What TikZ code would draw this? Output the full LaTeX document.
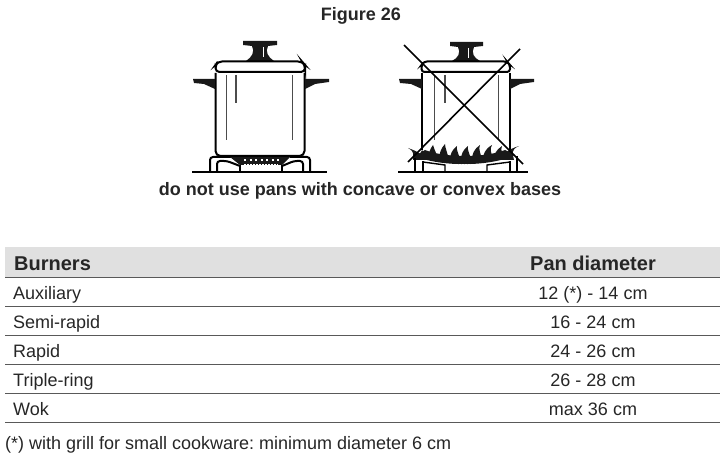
\documentclass[tikz,border=0pt]{standalone}
\usepackage{fontspec}
\setmainfont{Liberation Sans}
\tikzset{
  rowtext/.style={anchor=base west,inner sep=0pt,text=black!85,font=\fontsize{18}{20}\selectfont\frenchspacing},
  sizetext/.style={anchor=base,inner sep=0pt,text=black!85,font=\fontsize{18}{20}\selectfont},
  headtext/.style={anchor=base,inner sep=0pt,text=black!85,font=\fontsize{20}{22}\bfseries\selectfont},
  titletext/.style={anchor=base,inner sep=0pt,text=black!85,font=\fontsize{18}{20}\bfseries\selectfont},
  rowrule/.style={draw=black!65,line width=1.6pt},
  potline/.style={draw=black,line width=2pt},
  potpart/.style={fill=black!90},
  shine/.style={draw=black!70,line width=1pt},
  crossline/.style={draw=black,line width=1.6pt}
}
\begin{document}
\begin{tikzpicture}[x=1pt,y=-1pt]
  \useasboundingbox (0,0) rectangle (726,468);
  \node[titletext] (T-1) at (361,20.5) {Figure 26};
  \node[titletext] (T-2) at (360,196) {do not use pans with concave or convex bases};

  % left pot
  \fill[potpart] (243,41) -- (277,41) -- (277,45) -- (268,46) .. controls (265,52) and (268,57) .. (274,61) -- (246,61) .. controls (252,57) and (255,52) .. (252,46) -- (243,45) -- cycle;
  \draw[white,line width=0.8pt] (263,47) -- (263,57);
  \draw[potline,rounded corners=4pt] (215.5,72) -- (215.5,65) -- (218,61.5) -- (302,61.5) -- (305,65) -- (305,72) -- cycle;
  \draw[potline,rounded corners=5pt] (215.5,73) -- (215.5,156) -- (304.5,156) -- (304.5,73);
  \fill[potpart] (193,79) -- (215,79) -- (215,89) -- (204,84) -- (194,83) -- cycle;
  \fill[potpart] (305,89) -- (305,79) -- (329,79) -- (329,82) -- (315,84) -- cycle;
  \draw[shine] (226,75) -- (226,140);
  \draw[shine,line width=1.2pt] (236,75) -- (236,103);
  \draw[shine] (292,75) -- (292,140);
  % left burner
  \draw[potline] (192,172) -- (327,172);
  \draw[potline,rounded corners=3pt] (210,171) -- (210,157) -- (231,157);
  \draw[potline,rounded corners=3pt] (217,171) -- (217,161) -- (227,161) -- (240,166);
  \draw[potline,rounded corners=3pt] (310,171) -- (310,157) -- (290,157);
  \draw[potline,rounded corners=3pt] (303,171) -- (303,161) -- (294,161) -- (282,166);
  \fill[potpart] (230,157) -- (290,157) -- (282,165) -- (240,165) -- cycle;
  \draw[white,line width=1.2pt,dash pattern=on 2pt off 3.5pt] (244,160) -- (280,160);
  \draw[white,line width=0.8pt,dash pattern=on 1.5pt off 1.5pt] (244,164) -- (278,164);
  \draw[potline,line width=1.2pt] (240,165) -- (240,172) (282,165) -- (282,172);

  % right pot
  \fill[potpart] (450,42) -- (483,42) -- (483,46) -- (474,47) .. controls (471,53) and (474,58) .. (480,61) -- (452,61) .. controls (458,58) and (461,53) .. (458,47) -- (450,46) -- cycle;
  \draw[white,line width=0.8pt] (468,48) -- (468,58);
  \draw[potline,rounded corners=3pt] (421.5,72) -- (421.5,65) -- (424,61.5) -- (507,61.5) -- (510,65) -- (510,72) -- cycle;
  \draw[potline] (422,73) -- (422,150) (510,73) -- (510,150);
  \fill[potpart] (399,79) -- (422,79) -- (422,89) -- (411,84) -- (400,83) -- cycle;
  \fill[potpart] (510,89) -- (510,79) -- (534,79) -- (534,82) -- (520,84) -- cycle;
  \draw[shine] (434,75) -- (434,140);
  \draw[shine,line width=1.2pt] (445,75) -- (445,103);
  \draw[shine] (498,75) -- (498,140);
  % right burner
  \draw[potline] (398,172) -- (528,172);
  \fill[potpart] (415,156) .. controls (440,167) and (490,167) .. (515,155) -- (505,150) .. controls (485,158) and (445,158) .. (425,150) -- cycle;
  \foreach \tipx/\tipy/\basex in {408/148/418,422/150/424,433/145/433,445/144/444,457/146/455,468/146/466,480/145/477,492/145/488,502/146/499,519/146/509} {
    \fill[potpart] (\tipx,\tipy) .. controls (\basex-3,\tipy+4) and (\basex-5,154) .. (\basex-5,160) -- (\basex+5,160) .. controls (\basex+4,154) and (\basex+1,\tipy+4) .. cycle;
  }
  \draw[potline,line width=1.4pt] (415,158) -- (415,171) (423,161) -- (423,171);
  \draw[potline,line width=1.4pt] (510,161) -- (510,171) (517,156) -- (517,171);
  \draw[potline,line width=1.4pt] (423,162) -- (445,165) -- (445,171);
  \draw[potline,line width=1.4pt] (510,162) -- (487,165) -- (487,171);
  \draw[white,line width=0.8pt,dash pattern=on 1.5pt off 1.5pt] (450,164) -- (484,164);
  \coordinate (X-1) at (404,45);
  \coordinate (X-2) at (523,164);
  \coordinate (X-3) at (520,49);
  \coordinate (X-4) at (408,162);
  \draw[crossline] (X-1) -- (X-2);
  \draw[crossline] (X-3) -- (X-4);

  % table
  \fill[black!12] (5,247) rectangle (720,277);
  \node[headtext,anchor=base west] (B-0) at (14,270) {Burners};
  \node[headtext] (D-0) at (593,270) {Pan diameter};
  \draw[rowrule] (5,277.5) -- (720,277.5);
  \node[rowtext] (B-1) at (13,299) {Auxiliary};
  \node[sizetext] (D-1) at (593,299) {12 (*) - 14 cm};
  \draw[rowrule] (5,306.5) -- (720,306.5);
  \node[rowtext] (B-2) at (13,328) {Semi-rapid};
  \node[sizetext] (D-2) at (593,328) {16 - 24 cm};
  \draw[rowrule] (5,335.5) -- (720,335.5);
  \node[rowtext] (B-3) at (13,357) {Rapid};
  \node[sizetext] (D-3) at (593,357) {24 - 26 cm};
  \draw[rowrule] (5,364.5) -- (720,364.5);
  \node[rowtext] (B-4) at (13,386) {Triple-ring};
  \node[sizetext] (D-4) at (593,386) {26 - 28 cm};
  \draw[rowrule] (5,393.5) -- (720,393.5);
  \node[rowtext] (B-5) at (13,415) {Wok};
  \node[sizetext] (D-5) at (593,415) {max 36 cm};
  \draw[rowrule] (5,422.5) -- (720,422.5);
  \node[rowtext] (N-1) at (5,449) {(*) with grill for small cookware: minimum diameter 6 cm};
\end{tikzpicture}
\end{document}
